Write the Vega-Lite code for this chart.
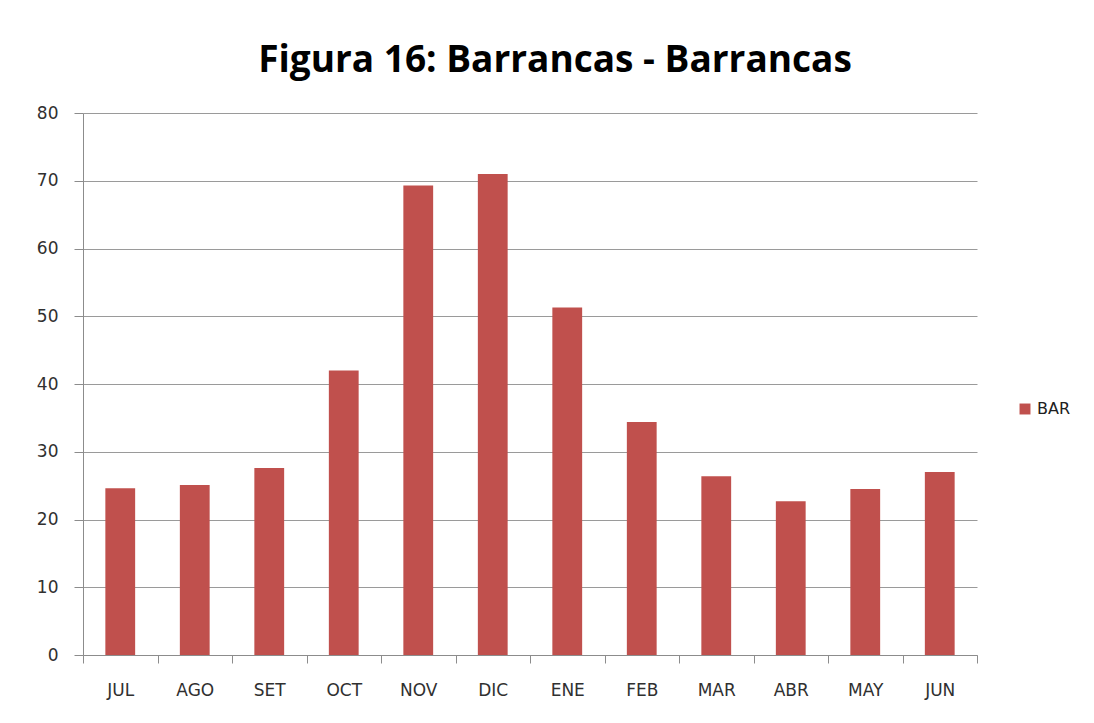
{
  "$schema": "https://vega.github.io/schema/vega-lite/v6.json",
  "autosize": "none",
  "width": 894,
  "height": 542,
  "padding": {"left": 83, "top": 113, "right": 117, "bottom": 68},
  "background": "white",
  "title": {
    "text": "Figura 16: Barrancas - Barrancas",
    "font": "Open Sans",
    "fontSize": 37,
    "fontWeight": "bold",
    "color": "#000000",
    "anchor": "middle",
    "dx": 25,
    "offset": 24
  },
  "data": {
    "values": [
      {"mes": "JUL", "serie": "BAR", "valor": 24.6},
      {"mes": "AGO", "serie": "BAR", "valor": 25.1},
      {"mes": "SET", "serie": "BAR", "valor": 27.6},
      {"mes": "OCT", "serie": "BAR", "valor": 42.0},
      {"mes": "NOV", "serie": "BAR", "valor": 69.3},
      {"mes": "DIC", "serie": "BAR", "valor": 71.0},
      {"mes": "ENE", "serie": "BAR", "valor": 51.3},
      {"mes": "FEB", "serie": "BAR", "valor": 34.4},
      {"mes": "MAR", "serie": "BAR", "valor": 26.4},
      {"mes": "ABR", "serie": "BAR", "valor": 22.7},
      {"mes": "MAY", "serie": "BAR", "valor": 24.5},
      {"mes": "JUN", "serie": "BAR", "valor": 27.0}
    ]
  },
  "mark": {"type": "bar", "width": {"band": 0.4}},
  "encoding": {
    "x": {
      "field": "mes",
      "type": "nominal",
      "sort": null,
      "scale": {"paddingInner": 0, "paddingOuter": 0},
      "axis": {
        "title": null,
        "labelAngle": 0,
        "labelFont": "DejaVu Sans",
        "labelFontSize": 17,
        "labelColor": "#303030",
        "labelPadding": 19,
        "tickBand": "extent",
        "tickSize": 8,
        "tickColor": "#8c8c8c",
        "domainColor": "#8c8c8c",
        "grid": false
      }
    },
    "y": {
      "field": "valor",
      "type": "quantitative",
      "scale": {"domain": [0, 80]},
      "axis": {
        "title": null,
        "values": [0, 10, 20, 30, 40, 50, 60, 70, 80],
        "labelFont": "DejaVu Sans",
        "labelFontSize": 17,
        "labelColor": "#303030",
        "labelPadding": 16,
        "tickSize": 9,
        "tickColor": "#8c8c8c",
        "domainColor": "#8c8c8c",
        "gridColor": "#9a9a9a",
        "gridWidth": 1
      }
    },
    "color": {
      "field": "serie",
      "type": "nominal",
      "scale": {"range": ["#C0504D"]},
      "legend": {
        "title": null,
        "orient": "none",
        "legendX": 934,
        "legendY": 288,
        "symbolType": "square",
        "symbolSize": 120,
        "labelFont": "DejaVu Sans",
        "labelFontSize": 16,
        "labelColor": "#202020"
      }
    }
  },
  "config": {
    "view": {"stroke": null}
  }
}
